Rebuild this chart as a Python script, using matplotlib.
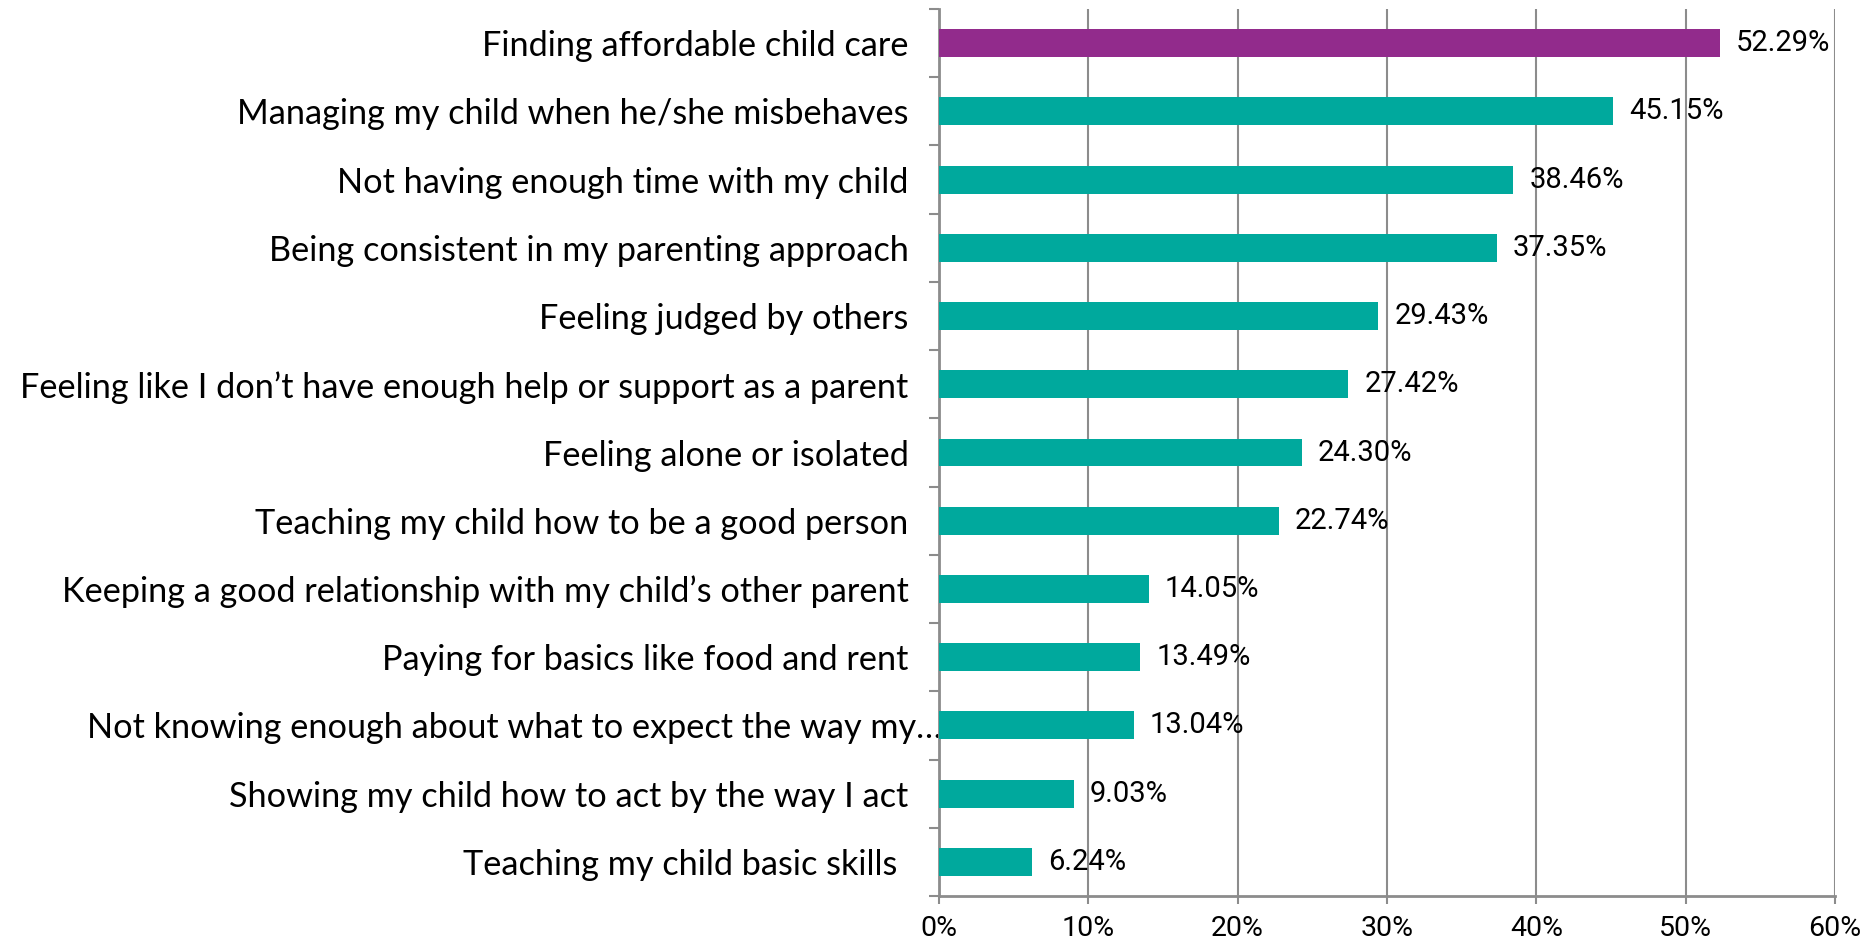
import matplotlib
matplotlib.use('Agg')
import matplotlib.pyplot as plt
import numpy as np

categories = [
    "Finding affordable child care",
    "Managing my child when he/she misbehaves",
    "Not having enough time with my child",
    "Being consistent in my parenting approach",
    "Feeling judged by others",
    "Feeling like I don\u2019t have enough help or support as a parent",
    "Feeling alone or isolated",
    "Teaching my child how to be a good person",
    "Keeping a good relationship with my child\u2019s other parent",
    "Paying for basics like food and rent",
    "Not knowing enough about what to expect the way my\u2026",
    "Showing my child how to act by the way I act",
    "Teaching my child basic skills",
]
values = [52.29, 45.15, 38.46, 37.35, 29.43, 27.42, 24.30, 22.74, 14.05, 13.49, 13.04, 9.03, 6.24]
x_ticks = [0, 10, 20, 30, 40, 50, 60]

teal = '#00A99D'
purple = '#922B8C'
grey = '#8C8C8C'

label_font = ['Lato', 'DejaVu Sans']
value_font = ['Roboto', 'DejaVu Sans']

fig = plt.figure(figsize=(18.68, 9.40), dpi=100)
ax = fig.add_axes([939 / 1868, 1 - 896 / 940, (1835 - 939) / 1868, (896 - 9) / 940])

y = np.arange(len(categories))
colors = [purple] + [teal] * (len(categories) - 1)
ax.barh(y, values, height=0.41, color=colors, zorder=3)

for yi, v in zip(y, values):
    ax.text(v + 1.07, yi, f"{v:.2f}%", va='center', ha='left',
            fontsize=21, family=value_font, color='black', zorder=4)

ax.set_xlim(0, 60)
ax.set_ylim(len(categories) - 0.5, -0.5)

ax.set_xticks(x_ticks)
ax.set_xticklabels([f"{t}%" for t in x_ticks], family=value_font, fontsize=20.5)
ax.set_yticks(y)
ax.set_yticklabels(categories, family=label_font, fontsize=24.7)
ax.set_yticks(np.arange(-0.5, len(categories), 1), minor=True)

ax.tick_params(axis='y', which='major', length=0, pad=22)
ax.tick_params(axis='y', which='minor', length=7, width=1.5, color=grey)
ax.tick_params(axis='x', which='major', length=6, width=1.5, color=grey, pad=8)

ticks = ax.yaxis.get_major_ticks()
ticks[10].set_pad(-2)
ticks[12].set_pad(30)

ax.grid(axis='x', color=grey, linewidth=1.5, zorder=0)
for side in ['top', 'right']:
    ax.spines[side].set_visible(False)
for side in ['left', 'bottom']:
    ax.spines[side].set_color(grey)
    ax.spines[side].set_linewidth(2)

fig.savefig('out.png', dpi=100)
